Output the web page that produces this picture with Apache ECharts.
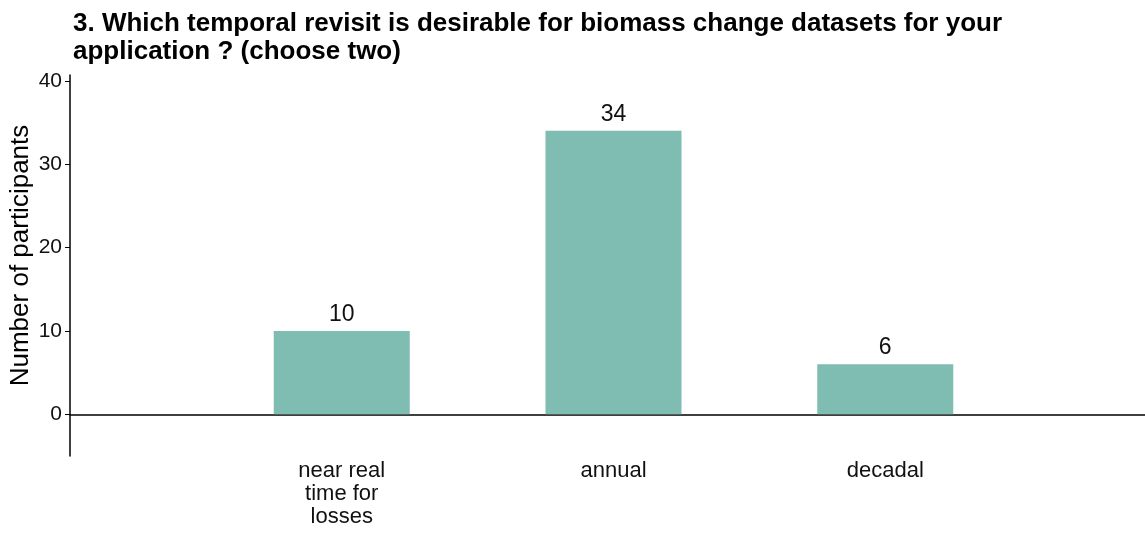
<!DOCTYPE html>
<html>
<head>
<meta charset="utf-8">
<script src="https://cdn.jsdelivr.net/npm/echarts@6/dist/echarts.min.js"></script>
<style>html,body{margin:0;padding:0;background:#fff}#c{width:1145px;height:533px}</style>
</head>
<body>
<div id="c"></div>
<script>
const titleText = "3. Which temporal revisit is desirable for biomass change datasets for your\napplication ? (choose two)";
const categories = ["", "near real\ntime for\nlosses", "annual", "decadal", ""];
const participants = [null, 10, 34, 6, null];
const yTicks = [0, 10, 20, 30, 40];
const yName = "Number of participants";

const chart = echarts.init(document.getElementById('c'), null, {renderer: 'canvas'});
const font = "'Liberation Sans', Arial, sans-serif";
chart.setOption({
  animation: false,
  backgroundColor: '#ffffff',
  title: {
    text: titleText,
    left: 68, top: 5,
    textStyle: {fontFamily: font, fontSize: 26, fontWeight: 'bold', color: '#000', lineHeight: 28}
  },
  grid: {left: 70, right: -12, top: 75, bottom: 77, containLabel: false, outerBoundsMode: 'none'},
  xAxis: {
    type: 'category',
    data: categories,
    boundaryGap: false,
    axisLine: {onZero: true, lineStyle: {color: '#000', width: 1.5}},
    axisTick: {show: false},
    splitLine: {show: false},
    axisLabel: {
      interval: 0, margin: 3, verticalAlign: 'top',
      fontFamily: font, fontSize: 22, color: '#111', lineHeight: 23, align: 'center'
    }
  },
  yAxis: {
    type: 'value',
    min: -5, max: 40.7,
    name: yName,
    nameLocation: 'middle',
    nameGap: 36,
    nameMoveOverlap: false,
    nameTextStyle: {fontFamily: font, fontSize: 26, color: '#000', padding: [0, 0, 0, 20]},
    axisLine: {show: true, lineStyle: {color: '#000', width: 1.5}},
    axisTick: {show: true, length: 5, customValues: yTicks, lineStyle: {color: '#000'}},
    axisLabel: {customValues: yTicks, margin: 8, fontFamily: font, fontSize: 21, color: '#111'},
    splitLine: {show: false}
  },
  series: [{
    type: 'bar',
    data: participants,
    barWidth: 136,
    itemStyle: {color: '#7fbcb1'},
    label: {show: true, position: 'top', distance: 5, fontFamily: font, fontSize: 23, color: '#111'}
  }]
});
</script>
</body>
</html>
